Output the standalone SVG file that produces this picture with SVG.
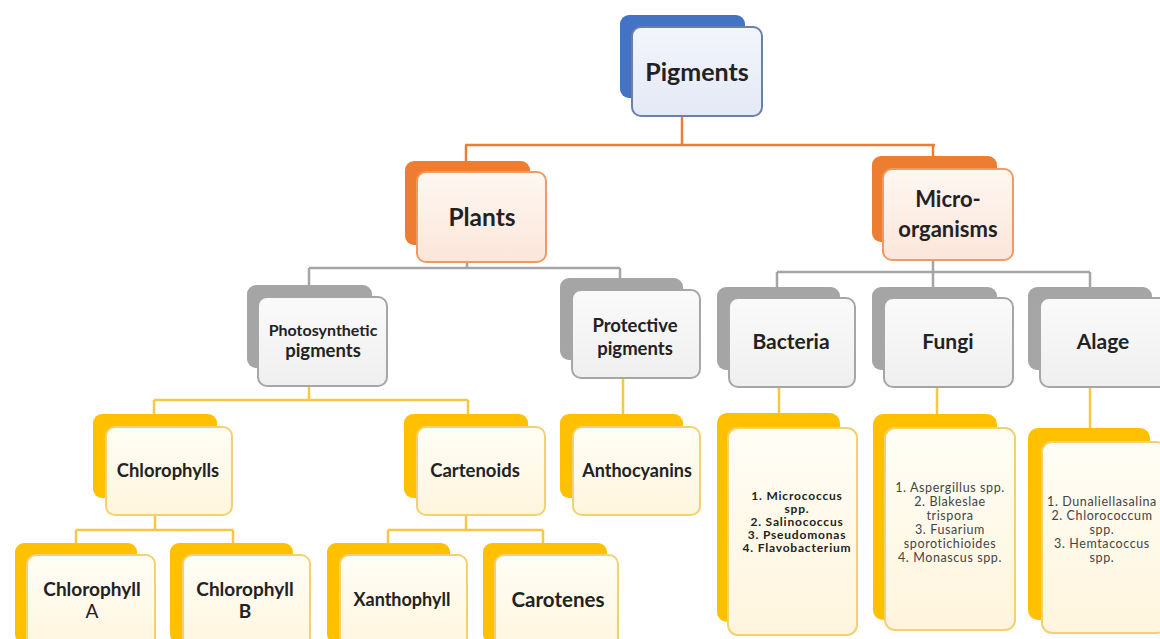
<svg xmlns="http://www.w3.org/2000/svg" width="1160" height="639" viewBox="0 0 1160 639">
<defs>
<linearGradient id="gBlue" x1="0" y1="0" x2="0" y2="1"><stop offset="0" stop-color="#F3F5FB"/><stop offset="1" stop-color="#E3E9F6"/></linearGradient>
<linearGradient id="gOrange" x1="0" y1="0" x2="0" y2="1"><stop offset="0" stop-color="#FEF7F2"/><stop offset="1" stop-color="#FBE6DA"/></linearGradient>
<linearGradient id="gGray" x1="0" y1="0" x2="0" y2="1"><stop offset="0" stop-color="#FAFAFA"/><stop offset="1" stop-color="#EFEFEF"/></linearGradient>
<linearGradient id="gYellow" x1="0" y1="0" x2="0" y2="1"><stop offset="0" stop-color="#FFFDF6"/><stop offset="1" stop-color="#FFF5DD"/></linearGradient>
</defs>
<style>
.bkB{fill:#4472C4}
.frB{fill:url(#gBlue);stroke:#6B7FA8;stroke-width:2}
.bkO{fill:#ED7D31}
.frO{fill:url(#gOrange);stroke:#F09A62;stroke-width:2}
.bkG{fill:#A5A5A5}
.frG{fill:url(#gGray);stroke:#A6A6A6;stroke-width:2}
.bkY{fill:#FFC000}
.frY{fill:url(#gYellow);stroke:#F3D070;stroke-width:2}
.t{font-family:Lato,"Liberation Sans",sans-serif;font-weight:bold;fill:#222;text-anchor:middle}
.b{font-family:Lato,"Liberation Sans",sans-serif;font-weight:bold;fill:#222;text-anchor:middle;font-size:12px;letter-spacing:0.8px}
.l{font-family:Lato,"Liberation Sans",sans-serif;fill:#444;text-anchor:middle;font-size:12.5px;letter-spacing:0.6px}
.cO{stroke:#ED7D31;stroke-width:2.5;fill:none}
.cG{stroke:#A5A5A5;stroke-width:2.5;fill:none}
.cY{stroke:#F5C842;stroke-width:2.5;fill:none}
</style>
<rect width="1160" height="639" fill="#FFFFFF"/>
<g id="connectors">
<path class="cO" d="M682 116V145M465 145H935M466 145V161M933 145V156"/>
<path class="cG" d="M467 262V268M309 268H620M309 268V285M620 268V278"/>
<path class="cG" d="M933 260V272M777 272H1090M777 272V287M933 272V287M1090 272V287"/>
<path class="cY" d="M309 386V400M154 400H468M154 400V414M468 400V414M623 378V414"/>
<path class="cY" d="M155 515V530M76 530H233M76 530V543M233 530V543"/>
<path class="cY" d="M466 515V530M388 530H543M388 530V543M543 530V543"/>
<path class="cY" d="M779 387V413M937 387V414M1090 387V428"/>
</g>
<g id="node-pigments">
<rect class="bkB" x="620" y="15" width="125" height="83" rx="9"/>
<rect class="frB" x="632" y="27" width="130" height="89" rx="9"/>
<text class="t" x="697" y="81" font-size="25">Pigments</text>
</g>
<g id="node-plants">
<rect class="bkO" x="405" y="161" width="125" height="84" rx="9"/>
<rect class="frO" x="417" y="172" width="129" height="90" rx="9"/>
<text class="t" x="482" y="226" font-size="24.5">Plants</text>
</g>
<g id="node-micro">
<rect class="bkO" x="872" y="156" width="125" height="86" rx="9"/>
<rect class="frO" x="883" y="169" width="130" height="91" rx="9"/>
<text class="t" x="948" y="207" font-size="22">Micro-</text>
<text class="t" x="948" y="237" font-size="22">organisms</text>
</g>
<g id="node-photosynthetic">
<rect class="bkG" x="247" y="285" width="125" height="83" rx="9"/>
<rect class="frG" x="258" y="297" width="129" height="89" rx="9"/>
<text class="t" x="323" y="336" font-size="16">Photosynthetic</text>
<text class="t" x="323" y="357" font-size="18.5">pigments</text>
</g>
<g id="node-protective">
<rect class="bkG" x="560" y="278" width="123" height="82" rx="9"/>
<rect class="frG" x="572" y="290" width="128" height="88" rx="9"/>
<text class="t" x="635" y="332" font-size="18.5">Protective</text>
<text class="t" x="635" y="355" font-size="18.5">pigments</text>
</g>
<g id="node-bacteria">
<rect class="bkG" x="717" y="287" width="123" height="83" rx="9"/>
<rect class="frG" x="729" y="298" width="126" height="89" rx="9"/>
<text class="t" x="791" y="349" font-size="21">Bacteria</text>
</g>
<g id="node-fungi">
<rect class="bkG" x="872" y="287" width="125" height="83" rx="9"/>
<rect class="frG" x="884" y="298" width="129" height="89" rx="9"/>
<text class="t" x="948" y="349" font-size="21">Fungi</text>
</g>
<g id="node-alage">
<rect class="bkG" x="1028" y="287" width="124" height="83" rx="9"/>
<rect class="frG" x="1040" y="298" width="130" height="89" rx="9"/>
<text class="t" x="1103" y="349" font-size="21">Alage</text>
</g>
<g id="node-chlorophylls">
<rect class="bkY" x="93" y="414" width="124" height="84" rx="9"/>
<rect class="frY" x="106" y="427" width="126" height="88" rx="9"/>
<text class="t" x="168" y="477" font-size="18.4">Chlorophylls</text>
</g>
<g id="node-cartenoids">
<rect class="bkY" x="404" y="414" width="124" height="84" rx="9"/>
<rect class="frY" x="417" y="427" width="128" height="88" rx="9"/>
<text class="t" x="475" y="477" font-size="18.5">Cartenoids</text>
</g>
<g id="node-anthocyanins">
<rect class="bkY" x="560" y="414" width="123" height="84" rx="9"/>
<rect class="frY" x="573" y="427" width="127" height="88" rx="9"/>
<text class="t" x="637" y="477" font-size="18">Anthocyanins</text>
</g>
<g id="node-chlorophyll-a">
<rect class="bkY" x="15" y="543" width="122" height="100" rx="9"/>
<rect class="frY" x="27" y="555" width="128" height="100" rx="9"/>
<text class="t" x="92" y="596" font-size="19">Chlorophyll</text>
<text class="t" x="92" y="618" font-size="19" style="font-weight:normal">A</text>
</g>
<g id="node-chlorophyll-b">
<rect class="bkY" x="170" y="543" width="123" height="100" rx="9"/>
<rect class="frY" x="183" y="555" width="127" height="100" rx="9"/>
<text class="t" x="245" y="596" font-size="19">Chlorophyll</text>
<text class="t" x="245" y="618" font-size="19">B</text>
</g>
<g id="node-xanthophyll">
<rect class="bkY" x="327" y="543" width="123" height="100" rx="9"/>
<rect class="frY" x="340" y="555" width="127" height="100" rx="9"/>
<text class="t" x="402" y="606" font-size="18">Xanthophyll</text>
</g>
<g id="node-carotenes">
<rect class="bkY" x="483" y="543" width="124" height="100" rx="9"/>
<rect class="frY" x="495" y="555" width="123" height="100" rx="9"/>
<text class="t" x="558" y="607" font-size="20.5">Carotenes</text>
</g>
<g id="node-bacteria-list">
<rect class="bkY" x="717" y="413" width="123" height="209" rx="10"/>
<rect class="frY" x="728" y="428" width="129" height="207" rx="10"/>
<text class="b" x="797" y="500">1. Micrococcus</text>
<text class="b" x="797" y="513">spp.</text>
<text class="b" x="797" y="526">2. Salinococcus</text>
<text class="b" x="797" y="539">3. Pseudomonas</text>
<text class="b" x="797" y="552">4. Flavobacterium</text>
</g>
<g id="node-fungi-list">
<rect class="bkY" x="873" y="414" width="124" height="206" rx="10"/>
<rect class="frY" x="885" y="428" width="130" height="202" rx="10"/>
<text class="l" x="950" y="492">1. Aspergillus spp.</text>
<text class="l" x="950" y="506">2. Blakeslae</text>
<text class="l" x="950" y="520">trispora</text>
<text class="l" x="950" y="534">3. Fusarium</text>
<text class="l" x="950" y="548">sporotichioides</text>
<text class="l" x="950" y="562">4.  Monascus spp.</text>
</g>
<g id="node-alage-list">
<rect class="bkY" x="1028" y="428" width="122" height="192" rx="10"/>
<rect class="frY" x="1042" y="442" width="125" height="191" rx="10"/>
<text class="l" x="1102" y="506">1. Dunaliellasalina</text>
<text class="l" x="1102" y="520">2. Chlorococcum</text>
<text class="l" x="1102" y="534">spp.</text>
<text class="l" x="1102" y="548">3. Hemtacoccus</text>
<text class="l" x="1102" y="562">spp.</text>
</g>
</svg>
